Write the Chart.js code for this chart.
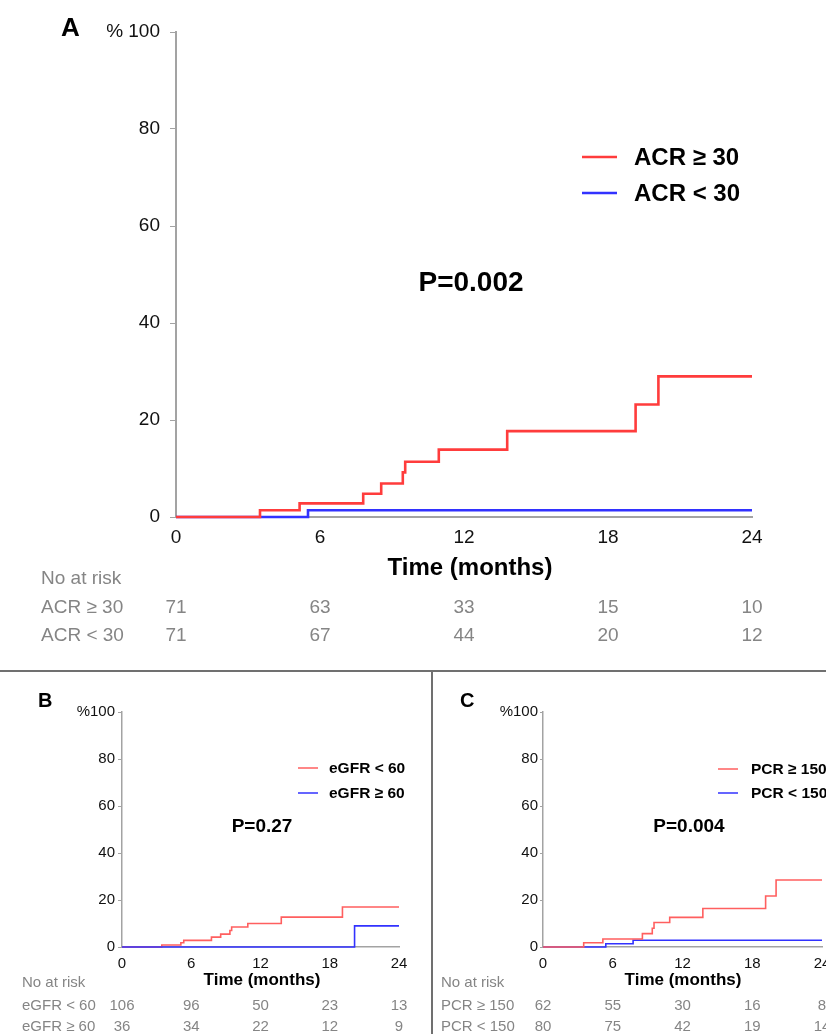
<!DOCTYPE html>
<html>
<head>
<meta charset="utf-8">
<title>Kaplan-Meier</title>
<script src="https://cdn.jsdelivr.net/npm/chart.js@4.4.0/dist/chart.umd.min.js"></script>
<style>
html, body { margin: 0; padding: 0; background: #fff; width: 826px; height: 1034px; overflow: hidden; }
body { position: relative; }
canvas { position: absolute; }
#lineH { position: absolute; left: 0; top: 670px; width: 826px; height: 2px; background: #707070; }
#lineV { position: absolute; left: 431px; top: 670px; width: 2px; height: 364px; background: #707070; }
</style>
</head>
<body>
<canvas id="chartA" width="826" height="668" style="left:0;top:0"></canvas>
<canvas id="chartB" width="431" height="362" style="left:0;top:672px"></canvas>
<canvas id="chartC" width="500" height="362" style="left:433px;top:672px"></canvas>
<div id="lineH"></div>
<div id="lineV"></div>
<script>
// months where the number at risk is shown
var riskTicks = [0, 6, 12, 18, 24];

// A - ACR
var acrHighTimes = [0, 3.5, 5.15, 7.8, 8.55, 9.45, 9.55, 10.95, 13.8, 19.15, 20.1, 24];
var acrHighPct = [0, 1.4, 2.8, 4.8, 6.9, 9.2, 11.4, 13.9, 17.7, 23.2, 29.0, 29.0];
var acrLowTimes = [0, 5.5, 24];
var acrLowPct = [0, 1.4, 1.4];
var acrHighRisk = [71, 63, 33, 15, 10];
var acrLowRisk = [71, 67, 44, 20, 12];

// B - eGFR
var egfrLowTimes = [0, 3.45, 5.1, 5.35, 7.75, 8.55, 9.35, 9.5, 10.9, 13.8, 19.1, 24];
var egfrLowPct = [0, 0.85, 1.8, 2.8, 4.2, 5.5, 7.0, 8.5, 10.0, 12.7, 17.0, 17.0];
var egfrHighTimes = [0, 20.15, 24];
var egfrHighPct = [0, 9.0, 9.0];
var egfrLowRisk = [106, 96, 50, 23, 13];
var egfrHighRisk = [36, 34, 22, 12, 9];

// C - PCR
var pcrHighTimes = [0, 3.5, 5.15, 8.55, 9.4, 9.55, 10.9, 13.75, 19.15, 20.05, 24];
var pcrHighPct = [0, 1.8, 3.4, 5.7, 8.0, 10.4, 12.6, 16.4, 21.7, 28.5, 28.5];
var pcrLowTimes = [0, 5.4, 7.75, 24];
var pcrLowPct = [0, 1.4, 2.9, 2.9];
var pcrHighRisk = [62, 55, 30, 16, 8];
var pcrLowRisk = [80, 75, 42, 19, 14];

var FONT = "'Liberation Sans', Arial, sans-serif";
var RED = 'rgb(255, 60, 60)';
var RED_LIGHT = 'rgb(255, 95, 95)';
var BLUE = 'rgb(50, 50, 255)';
var AXIS = '#a3a3a3';
var GREY = '#858585';

Chart.defaults.font.family = FONT;

function kmDataset(times, pct, color, width) {
    return {
        data: times.map(function (t, i) { return { x: t, y: pct[i] }; }),
        borderColor: color,
        borderWidth: width,
        stepped: true,
        pointRadius: 0,
        fill: false,
        clip: false
    };
}

function kmScales(o) {
    return {
        x: {
            type: 'linear', min: 0, max: 24,
            afterFit: function (s) { s.height = o.xh; },
            ticks: { stepSize: 6, color: '#111', font: { size: o.fs }, padding: o.xpad, maxRotation: 0, autoSkip: false },
            grid: { display: false },
            border: { color: AXIS, width: o.bw }
        },
        y: {
            type: 'linear', min: 0, max: 100,
            afterFit: function (s) { s.width = o.yw; },
            ticks: {
                stepSize: 20, color: '#111', font: { size: o.fs }, padding: o.ypad,
                callback: function (v) { return v === 100 ? o.top : v; }
            },
            grid: { drawOnChartArea: false, drawTicks: true, tickLength: o.tl, color: AXIS, lineWidth: 1 },
            border: { color: AXIS, width: o.bw }
        }
    };
}

// texts, legend and risk table, p holds page coordinates
function panelPlugin(p) {
    return {
        id: 'panel',
        afterDraw: function (chart) {
            var ctx = chart.ctx;
            var xs = chart.scales.x;
            ctx.save();
            p.texts.forEach(function (t) {
                ctx.font = t.font;
                ctx.fillStyle = t.color || '#000';
                ctx.textAlign = t.align || 'left';
                ctx.textBaseline = t.base || 'alphabetic';
                ctx.fillText(t.text, t.x - p.ox, t.y - p.oy);
            });
            p.legend.forEach(function (l) {
                ctx.strokeStyle = l.color;
                ctx.lineWidth = l.width;
                ctx.beginPath();
                ctx.moveTo(p.lx1 - p.ox, l.y - p.oy);
                ctx.lineTo(p.lx2 - p.ox, l.y - p.oy);
                ctx.stroke();
                ctx.font = p.legendFont;
                ctx.fillStyle = '#000';
                ctx.textAlign = 'left';
                ctx.textBaseline = 'middle';
                ctx.fillText(l.text, p.ltx - p.ox, l.y - p.oy + 1);
            });
            ctx.font = p.riskFont;
            ctx.fillStyle = GREY;
            ctx.textBaseline = 'alphabetic';
            ctx.textAlign = 'left';
            ctx.fillText('No at risk', p.rx - p.ox, p.ry[0] - p.oy);
            p.rows.forEach(function (r, k) {
                var y = p.ry[k + 1] - p.oy;
                ctx.textAlign = 'left';
                ctx.fillText(r.label, p.rx - p.ox, y);
                ctx.textAlign = 'center';
                r.values.forEach(function (v, i) {
                    ctx.fillText(String(v), xs.getPixelForValue(riskTicks[i]), y);
                });
            });
            ctx.restore();
        }
    };
}

function buildChart(id, datasets, scales, padding, plugin) {
    return new Chart(document.getElementById(id), {
        type: 'line',
        data: { datasets: datasets },
        options: {
            responsive: false,
            animation: false,
            events: [],
            layout: { padding: padding },
            scales: scales,
            plugins: { legend: { display: false }, tooltip: { enabled: false } }
        },
        plugins: [plugin]
    });
}

// A
buildChart('chartA',
    [kmDataset(acrHighTimes, acrHighPct, RED, 2.6), kmDataset(acrLowTimes, acrLowPct, BLUE, 2.6)],
    kmScales({ xh: 151, yw: 176, fs: 19, xpad: 1, ypad: 10, tl: 6, bw: 2, top: '% 100' }),
    { left: 0, top: 32, right: 74, bottom: 0 },
    panelPlugin({
        ox: 0, oy: 0,
        texts: [
            { text: 'A', x: 61, y: 36, font: 'bold 26px ' + FONT },
            { text: 'P=0.002', x: 471, y: 283, font: 'bold 28px ' + FONT, align: 'center', base: 'middle' },
            { text: 'Time (months)', x: 470, y: 575, font: 'bold 24px ' + FONT, align: 'center' }
        ],
        lx1: 582, lx2: 617, ltx: 634, legendFont: 'bold 24px ' + FONT,
        legend: [
            { text: 'ACR \u2265 30', y: 157, color: RED, width: 2.6 },
            { text: 'ACR < 30', y: 193, color: BLUE, width: 2.6 }
        ],
        riskFont: '19px ' + FONT, rx: 41, ry: [584, 613, 641],
        rows: [
            { label: 'ACR \u2265 30', values: acrHighRisk },
            { label: 'ACR < 30', values: acrLowRisk }
        ]
    }));

// B
buildChart('chartB',
    [kmDataset(egfrHighTimes, egfrHighPct, BLUE, 1.6), kmDataset(egfrLowTimes, egfrLowPct, RED_LIGHT, 1.6)],
    kmScales({ xh: 87, yw: 122, fs: 15, xpad: 0, ypad: 3, tl: 4, bw: 1.5, top: '%100' }),
    { left: 0, top: 40, right: 32, bottom: 0 },
    panelPlugin({
        ox: 0, oy: 672,
        texts: [
            { text: 'B', x: 38, y: 707, font: 'bold 20px ' + FONT },
            { text: 'P=0.27', x: 262, y: 827, font: 'bold 19px ' + FONT, align: 'center', base: 'middle' },
            { text: 'Time (months)', x: 262, y: 985, font: 'bold 17px ' + FONT, align: 'center' }
        ],
        lx1: 298, lx2: 318, ltx: 329, legendFont: 'bold 15.5px ' + FONT,
        legend: [
            { text: 'eGFR < 60', y: 768, color: RED_LIGHT, width: 1.5 },
            { text: 'eGFR \u2265 60', y: 793, color: BLUE, width: 1.5 }
        ],
        riskFont: '15px ' + FONT, rx: 22, ry: [987, 1010, 1031],
        rows: [
            { label: 'eGFR < 60', values: egfrLowRisk },
            { label: 'eGFR \u2265 60', values: egfrHighRisk }
        ]
    }));

// C
buildChart('chartC',
    [kmDataset(pcrHighTimes, pcrHighPct, RED_LIGHT, 1.6), kmDataset(pcrLowTimes, pcrLowPct, BLUE, 1.6)],
    kmScales({ xh: 87, yw: 110, fs: 15, xpad: 0, ypad: 2, tl: 3, bw: 1.5, top: '%100' }),
    { left: 0, top: 40, right: 111, bottom: 0 },
    panelPlugin({
        ox: 433, oy: 672,
        texts: [
            { text: 'C', x: 460, y: 707, font: 'bold 20px ' + FONT },
            { text: 'P=0.004', x: 689, y: 827, font: 'bold 19px ' + FONT, align: 'center', base: 'middle' },
            { text: 'Time (months)', x: 683, y: 985, font: 'bold 17px ' + FONT, align: 'center' }
        ],
        lx1: 718, lx2: 738, ltx: 751, legendFont: 'bold 15.5px ' + FONT,
        legend: [
            { text: 'PCR \u2265 150', y: 769, color: RED_LIGHT, width: 1.5 },
            { text: 'PCR < 150', y: 793, color: BLUE, width: 1.5 }
        ],
        riskFont: '15px ' + FONT, rx: 441, ry: [987, 1010, 1031],
        rows: [
            { label: 'PCR \u2265 150', values: pcrHighRisk },
            { label: 'PCR < 150', values: pcrLowRisk }
        ]
    }));
</script>
</body>
</html>
